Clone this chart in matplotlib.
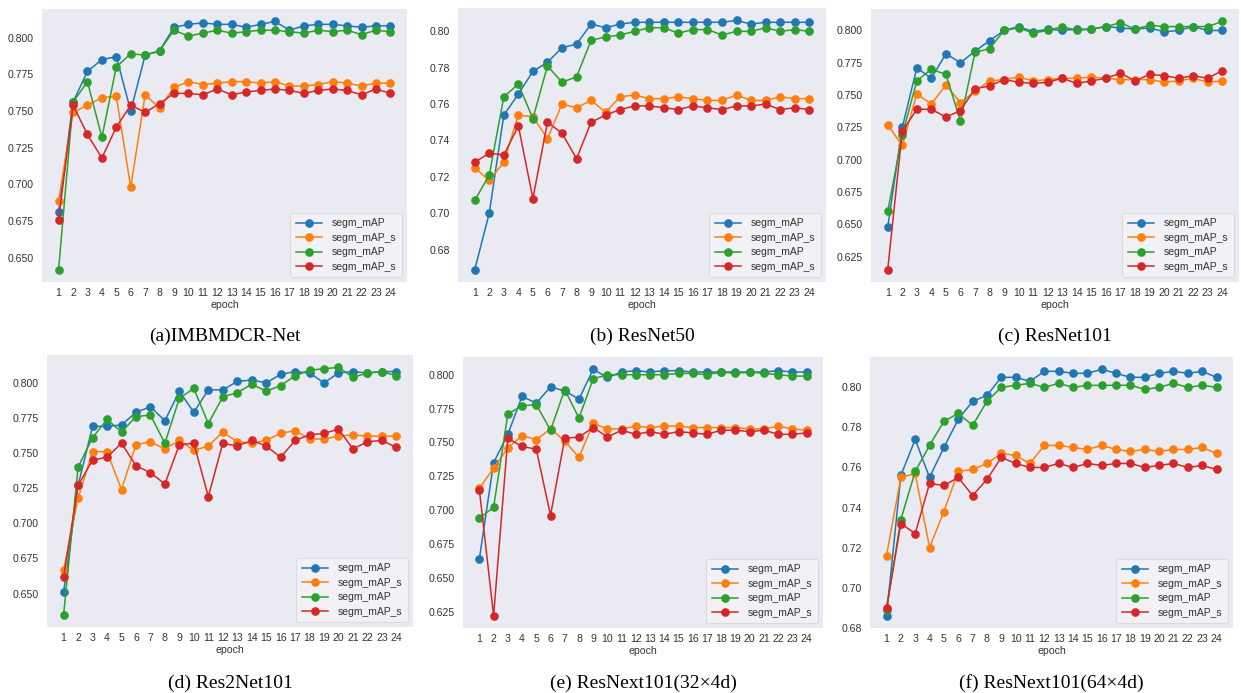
import matplotlib
matplotlib.use("Agg")
import matplotlib.pyplot as plt

epochs = list(range(1, 25))

captions = ["(a)IMBMDCR-Net", "(b) ResNet50", "(c) ResNet101",
            "(d) Res2Net101", "(e) ResNext101(32×4d)", "(f) ResNext101(64×4d)"]
series_labels = ["segm_mAP", "segm_mAP_s", "segm_mAP", "segm_mAP_s"]
colors = ["#1f77b4", "#ff7f0e", "#2ca02c", "#d62728"]

# (a) IMBMDCR-Net
a_blue = [0.681, 0.756, 0.777, 0.785, 0.787, 0.750, 0.788, 0.791, 0.807, 0.809, 0.810, 0.809,
          0.809, 0.807, 0.809, 0.811, 0.805, 0.808, 0.809, 0.809, 0.808, 0.807, 0.808, 0.808]
a_orange = [0.689, 0.749, 0.754, 0.759, 0.760, 0.698, 0.761, 0.752, 0.766, 0.770, 0.768, 0.769,
            0.770, 0.770, 0.769, 0.770, 0.767, 0.767, 0.768, 0.770, 0.769, 0.767, 0.769, 0.769]
a_green = [0.642, 0.756, 0.770, 0.732, 0.780, 0.789, 0.788, 0.791, 0.805, 0.801, 0.803, 0.805,
           0.803, 0.804, 0.805, 0.805, 0.804, 0.803, 0.805, 0.804, 0.805, 0.802, 0.805, 0.804]
a_red = [0.676, 0.754, 0.734, 0.718, 0.739, 0.754, 0.749, 0.755, 0.762, 0.762, 0.761, 0.765,
         0.761, 0.763, 0.764, 0.765, 0.764, 0.762, 0.764, 0.765, 0.764, 0.761, 0.765, 0.762]

# (b) ResNet50
b_blue = [0.669, 0.700, 0.754, 0.7655, 0.778, 0.783, 0.791, 0.793, 0.804, 0.802, 0.804, 0.805,
          0.805, 0.805, 0.805, 0.805, 0.805, 0.805, 0.806, 0.804, 0.805, 0.805, 0.805, 0.805]
b_orange = [0.725, 0.718, 0.728, 0.754, 0.753, 0.741, 0.760, 0.758, 0.762, 0.7555, 0.764, 0.765,
            0.763, 0.763, 0.764, 0.763, 0.762, 0.762, 0.765, 0.762, 0.762, 0.764, 0.763, 0.763]
b_green = [0.707, 0.721, 0.764, 0.771, 0.752, 0.781, 0.772, 0.775, 0.795, 0.797, 0.798, 0.800,
           0.802, 0.802, 0.799, 0.801, 0.801, 0.798, 0.800, 0.800, 0.802, 0.800, 0.801, 0.800]
b_red = [0.728, 0.733, 0.732, 0.748, 0.708, 0.750, 0.744, 0.730, 0.750, 0.754, 0.757, 0.759,
         0.759, 0.758, 0.757, 0.759, 0.758, 0.757, 0.759, 0.759, 0.760, 0.757, 0.758, 0.757]

# (c) ResNet101
c_blue = [0.648, 0.725, 0.771, 0.763, 0.782, 0.775, 0.784, 0.792, 0.800, 0.803, 0.799, 0.801,
          0.800, 0.801, 0.801, 0.803, 0.802, 0.801, 0.802, 0.799, 0.800, 0.803, 0.800, 0.800]
c_orange = [0.727, 0.711, 0.751, 0.743, 0.758, 0.744, 0.753, 0.761, 0.762, 0.764, 0.761, 0.762,
            0.763, 0.763, 0.764, 0.763, 0.762, 0.762, 0.762, 0.760, 0.761, 0.763, 0.760, 0.761]
c_green = [0.660, 0.719, 0.761, 0.770, 0.766, 0.730, 0.783, 0.786, 0.800, 0.802, 0.798, 0.800,
           0.803, 0.800, 0.801, 0.803, 0.806, 0.801, 0.804, 0.803, 0.803, 0.803, 0.803, 0.807]
c_red = [0.615, 0.722, 0.739, 0.739, 0.733, 0.738, 0.755, 0.757, 0.762, 0.760, 0.759, 0.760,
         0.763, 0.759, 0.761, 0.763, 0.767, 0.761, 0.766, 0.765, 0.763, 0.765, 0.763, 0.769]

# (d) Res2Net101
d_blue = [0.651, 0.727, 0.769, 0.769, 0.770, 0.779, 0.783, 0.773, 0.794, 0.779, 0.795, 0.795,
          0.801, 0.802, 0.800, 0.806, 0.808, 0.807, 0.800, 0.807, 0.808, 0.807, 0.808, 0.808]
d_orange = [0.667, 0.718, 0.751, 0.751, 0.724, 0.756, 0.758, 0.753, 0.759, 0.752, 0.755, 0.765,
            0.758, 0.757, 0.759, 0.764, 0.766, 0.760, 0.760, 0.762, 0.763, 0.762, 0.762, 0.762]
d_green = [0.635, 0.740, 0.761, 0.774, 0.765, 0.776, 0.777, 0.757, 0.789, 0.796, 0.771, 0.790,
           0.793, 0.799, 0.794, 0.798, 0.805, 0.809, 0.810, 0.811, 0.804, 0.807, 0.808, 0.805]
d_red = [0.662, 0.727, 0.745, 0.747, 0.757, 0.741, 0.736, 0.728, 0.756, 0.757, 0.719, 0.757,
         0.755, 0.759, 0.755, 0.747, 0.759, 0.763, 0.764, 0.767, 0.753, 0.758, 0.759, 0.754]

# (e) ResNext101(32x4d)
e_blue = [0.664, 0.735, 0.756, 0.784, 0.779, 0.791, 0.788, 0.782, 0.804, 0.798, 0.802, 0.803,
          0.802, 0.803, 0.803, 0.802, 0.802, 0.802, 0.802, 0.802, 0.802, 0.803, 0.802, 0.802]
e_orange = [0.716, 0.731, 0.746, 0.755, 0.752, 0.760, 0.751, 0.739, 0.764, 0.760, 0.760, 0.762,
            0.761, 0.762, 0.762, 0.761, 0.761, 0.761, 0.761, 0.760, 0.760, 0.762, 0.760, 0.759]
e_green = [0.694, 0.702, 0.771, 0.777, 0.778, 0.759, 0.789, 0.768, 0.797, 0.800, 0.800, 0.800,
           0.800, 0.800, 0.801, 0.801, 0.800, 0.802, 0.801, 0.802, 0.801, 0.800, 0.799, 0.799]
e_red = [0.715, 0.622, 0.753, 0.747, 0.745, 0.696, 0.753, 0.754, 0.761, 0.754, 0.759, 0.756,
         0.758, 0.756, 0.758, 0.757, 0.756, 0.759, 0.759, 0.758, 0.759, 0.756, 0.756, 0.757]

# (f) ResNext101(64x4d)
f_blue = [0.686, 0.756, 0.774, 0.755, 0.770, 0.784, 0.793, 0.796, 0.805, 0.805, 0.803, 0.808,
          0.808, 0.807, 0.807, 0.809, 0.807, 0.805, 0.805, 0.807, 0.808, 0.807, 0.808, 0.805]
f_orange = [0.716, 0.755, 0.757, 0.720, 0.738, 0.758, 0.759, 0.762, 0.767, 0.766, 0.762, 0.771,
            0.771, 0.770, 0.769, 0.771, 0.769, 0.768, 0.769, 0.768, 0.769, 0.769, 0.770, 0.767]
f_green = [0.689, 0.734, 0.758, 0.771, 0.783, 0.787, 0.781, 0.793, 0.800, 0.801, 0.802, 0.800,
           0.802, 0.800, 0.801, 0.801, 0.801, 0.801, 0.799, 0.800, 0.802, 0.800, 0.801, 0.800]
f_red = [0.690, 0.732, 0.727, 0.752, 0.751, 0.755, 0.746, 0.754, 0.765, 0.762, 0.760, 0.760,
         0.762, 0.760, 0.762, 0.761, 0.762, 0.762, 0.760, 0.761, 0.762, 0.760, 0.761, 0.759]

panels = [
    (a_blue, a_orange, a_green, a_red),
    (b_blue, b_orange, b_green, b_red),
    (c_blue, c_orange, c_green, c_red),
    (d_blue, d_orange, d_green, d_red),
    (e_blue, e_orange, e_green, e_red),
    (f_blue, f_orange, f_green, f_red),
]

W, H = 1241, 693
fig = plt.figure(figsize=(W / 100, H / 100), dpi=100)
fig.patch.set_facecolor("white")

# axes boxes in pixels: left, top, right, bottom
boxes = [(42, 9, 407, 282), (458, 8, 826, 282), (871, 9, 1239, 282),
         (47, 355, 413, 627), (463, 357, 823, 628), (870, 357, 1233, 628)]
caption_y = [336, 336, 336, 683, 683, 683]

plt.rcParams['font.family'] = ['Liberation Sans', 'DejaVu Sans']

for i, (box, data) in enumerate(zip(boxes, panels)):
    l, t, r, b = box
    ax = fig.add_axes([l / W, 1 - b / H, (r - l) / W, (b - t) / H])
    ax.set_facecolor("#EAEAF2")
    for s in ax.spines.values():
        s.set_visible(False)
    for vals, col, lab in zip(data, colors, series_labels):
        ax.plot(epochs, vals, color=col, marker="o", markersize=5.2, linewidth=1.1, label=lab)
    ax.set_xticks(epochs)
    ax.tick_params(axis="both", length=0, labelsize=7.6, colors="#333333")
    ax.tick_params(axis="y", pad=6)
    ax.tick_params(axis="x", pad=4)
    ax.set_xlabel("epoch", fontsize=7.6, color="#333333", labelpad=2)
    leg = ax.legend(loc="lower right", fontsize=7.5, frameon=True, handlelength=2.5,
                    labelspacing=0.42, borderpad=0.5, handletextpad=1.0)
    leg.get_frame().set_facecolor("#F5F5F8")
    leg.get_frame().set_edgecolor("#D5D5DD")
    leg.get_frame().set_linewidth(0.8)
    for txt in leg.get_texts():
        txt.set_color("#333333")
    cx = (l + r) / 2 / W
    fig.text(cx, 1 - caption_y[i] / H, captions[i], ha="center", va="center",
             fontsize=14, family=["Liberation Serif", "DejaVu Serif"], color="black")

fig.savefig("out.png", dpi=100)
